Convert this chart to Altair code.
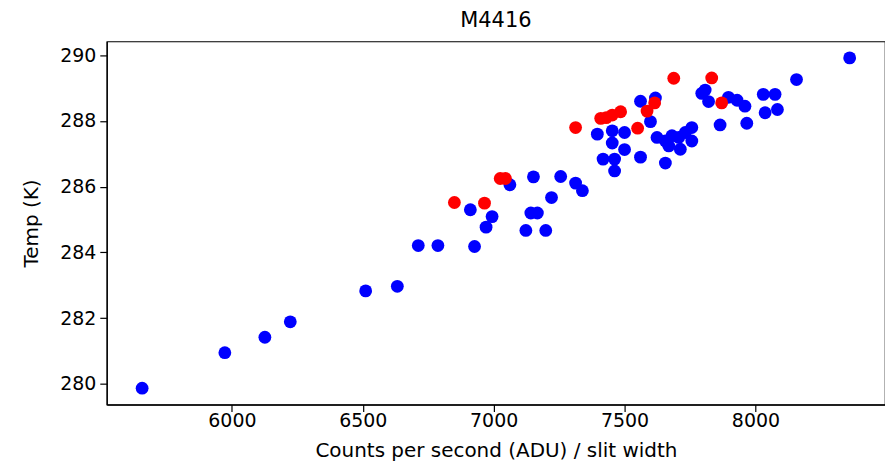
import altair as alt
import pandas as pd

# Blue series (Counts per second / slit width, Temp K)
blue_x = [5657, 5973, 6126, 6223, 6511, 6632, 6712, 6787, 6927, 6911,
          6994, 6971, 7062, 7152, 7221, 7256, 7313, 7339, 7142, 7167,
          7123, 7199, 7396, 7453, 7500, 7453, 7500, 7418, 7462, 7462,
          7561, 7656, 7561, 7618, 7599, 7624, 7656, 7669, 7681, 7707,
          7713, 7732, 7757, 7757, 7795, 7808, 7821, 7897, 7930, 7960,
          7865, 7967, 8030, 8075, 8037, 8084, 8157, 8360]
blue_y = [279.87, 280.95, 281.42, 281.89, 282.83, 282.97, 284.21, 284.21, 284.18, 285.30,
          285.09, 284.77, 286.06, 286.30, 285.67, 286.31, 286.11, 285.88, 285.20, 285.20,
          284.67, 284.67, 287.60, 287.70, 287.65, 287.33, 287.13, 286.84, 286.84, 286.48,
          286.90, 286.72, 288.60, 288.70, 287.98, 287.50, 287.39, 287.24, 287.55, 287.50,
          287.14, 287.65, 287.80, 287.39, 288.84, 288.94, 288.59, 288.72, 288.63, 288.45,
          287.88, 287.93, 288.81, 288.81, 288.25, 288.35, 289.26, 289.92]

# Red series
red_x = [6850, 6965, 7025, 7045, 7313, 7409, 7430, 7453, 7485, 7550,
         7586, 7615, 7688, 7833, 7871]
red_y = [285.52, 285.50, 286.25, 286.25, 287.80, 288.08, 288.10, 288.18, 288.28, 287.78,
         288.30, 288.55, 289.30, 289.31, 288.55]

x_ticks = [6000, 6500, 7000, 7500, 8000]
y_ticks = [280, 282, 284, 286, 288, 290]

df = pd.concat([
    pd.DataFrame({"x": blue_x, "y": blue_y, "s": "blue", "o": 0}),
    pd.DataFrame({"x": red_x, "y": red_y, "s": "red", "o": 1}),
], ignore_index=True)

FONT = "DejaVu Sans"

chart = alt.Chart(df).mark_circle(size=165, opacity=1).encode(
    x=alt.X("x:Q",
            scale=alt.Scale(domain=[5522, 8495], nice=False, zero=False),
            axis=alt.Axis(values=x_ticks, title="Counts per second (ADU) / slit width",
                          grid=False, format="d", tickSize=7, labelPadding=0,
                          titlePadding=10)),
    y=alt.Y("y:Q",
            scale=alt.Scale(domain=[279.37, 290.42], nice=False, zero=False),
            axis=alt.Axis(values=y_ticks, title="Temp (K)", grid=False, format="d",
                          tickSize=7, labelPadding=4, titlePadding=18)),
    color=alt.Color("s:N", scale=alt.Scale(domain=["blue", "red"], range=["#0000ff", "#ff0000"]),
                    legend=None),
    order=alt.Order("o:Q"),
).properties(
    width=780,
    height=364,
    title=alt.TitleParams("M4416", fontSize=21, font=FONT, fontWeight="normal",
                          color="black", anchor="middle", offset=10),
    autosize=alt.AutoSizeParams(type="none"),
    padding={"left": 99, "top": 33, "right": 0, "bottom": 60},
).configure_view(
    stroke="black", strokeWidth=1.2
).configure_axis(
    domainColor="black", tickColor="black", labelColor="black", titleColor="black",
    labelFont=FONT, titleFont=FONT, labelFontSize=19, titleFontSize=20,
    titleFontWeight="normal", domainWidth=1.2, tickWidth=1.2
)

chart.save("out.html", embed_options={"renderer": "svg", "actions": False})
